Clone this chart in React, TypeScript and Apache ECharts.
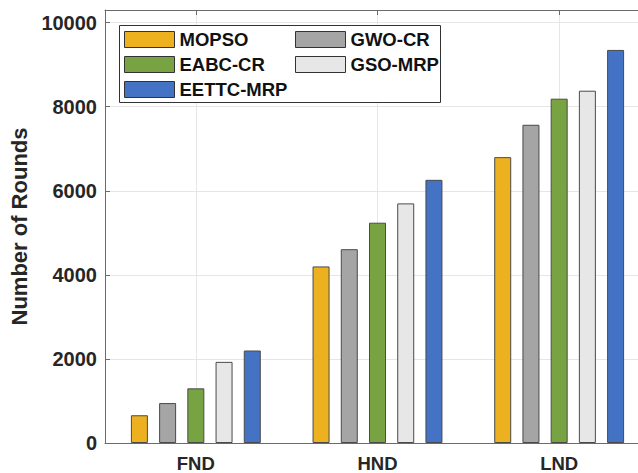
import React, { useEffect, useRef } from "react";
import * as echarts from "echarts";

const categories = ["FND", "HND", "LND"];
const seriesNames = ["MOPSO", "GWO-CR", "EABC-CR", "GSO-MRP", "EETTC-MRP"];
const mopso = [660, 4200, 6800];
const gwoCr = [950, 4610, 7570];
const eabcCr = [1300, 5240, 8190];
const gsoMrp = [1930, 5700, 8380];
const eettcMrp = [2200, 6260, 9350];
const seriesValues = [mopso, gwoCr, eabcCr, gsoMrp, eettcMrp];
const seriesColors = ["#EDB120", "#A5A5A5", "#77A343", "#E7E7E7", "#4472C4"];
const yTickInterval = 2000;
const yMax = 10300;
const yAxisTitle = "Number of Rounds";

const FONT = "'Liberation Sans', Arial, Helvetica, sans-serif";
const AXIS_COLOR = "#6b6b6b";
const TEXT_COLOR = "#262626";

export default function App() {
  const ref = useRef<HTMLDivElement>(null);
  useEffect(() => {
    if (!ref.current) return;
    const chart = echarts.init(ref.current, undefined, { renderer: "svg" });
    const option: any = {
      animation: false,
      backgroundColor: "#ffffff",
      textStyle: { fontFamily: FONT },
      grid: { left: 105, top: 10, width: 545, bottom: 30 },
      graphic: [
        {
          type: "rect",
          z: 3,
          shape: { x: 119.5, y: 25.5, width: 321, height: 77 },
          style: { fill: "#ffffff", stroke: "#333333", lineWidth: 1 },
        },
      ],
      legend: [
        {
          data: ["MOPSO", "EABC-CR", "EETTC-MRP"],
          orient: "vertical",
          left: 124,
          top: 30,
          padding: 0,
          itemGap: 6,
          itemWidth: 50,
          itemHeight: 16,
          selectedMode: false,
          icon: "rect",
          itemStyle: { borderColor: "#333333", borderWidth: 1 },
          textStyle: { fontFamily: FONT, fontSize: 18.5, fontWeight: "bold", color: "#111111" },
        },
        {
          data: ["GWO-CR", "GSO-MRP"],
          orient: "vertical",
          left: 295,
          top: 30,
          padding: 0,
          itemGap: 6,
          itemWidth: 50,
          itemHeight: 16,
          selectedMode: false,
          icon: "rect",
          itemStyle: { borderColor: "#333333", borderWidth: 1 },
          textStyle: { fontFamily: FONT, fontSize: 18.5, fontWeight: "bold", color: "#111111" },
        },
      ],
      xAxis: [
        {
          type: "category",
          data: categories,
          position: "bottom",
          axisLine: { show: true, lineStyle: { color: AXIS_COLOR, width: 1 } },
          axisTick: { show: true, inside: true, alignWithLabel: true, length: 5, lineStyle: { color: AXIS_COLOR } },
          axisLabel: { margin: 11, fontFamily: FONT, fontSize: 18.5, fontWeight: "bold", color: TEXT_COLOR },
          splitLine: { show: true, alignWithLabel: true, lineStyle: { color: "#e6e6e6", width: 1 } },
        },
        {
          type: "category",
          data: categories,
          position: "top",
          axisLine: { show: true, lineStyle: { color: AXIS_COLOR, width: 1 } },
          axisTick: { show: true, inside: true, alignWithLabel: true, length: 5, lineStyle: { color: AXIS_COLOR } },
          axisLabel: { show: false },
          splitLine: { show: false },
        },
      ],
      yAxis: {
        type: "value",
        min: 0,
        max: yMax,
        interval: yTickInterval,
        name: yAxisTitle,
        nameLocation: "middle",
        nameGap: 67,
        nameTextStyle: { fontFamily: FONT, fontSize: 22, fontWeight: "bold", color: TEXT_COLOR },
        axisLine: { show: true, lineStyle: { color: AXIS_COLOR, width: 1 } },
        axisTick: { show: true, inside: true, length: 5, lineStyle: { color: AXIS_COLOR } },
        axisLabel: {
          margin: 8,
          fontFamily: FONT,
          fontSize: 20,
          fontWeight: "bold",
          color: TEXT_COLOR,
          showMaxLabel: false,
          formatter: (v: number) => (v % yTickInterval === 0 ? String(v) : ""),
        },
        splitLine: { show: true, lineStyle: { color: "#e6e6e6", width: 1 } },
      },
      series: seriesNames.map((name, i) => ({
        name,
        type: "bar",
        xAxisIndex: 0,
        data: seriesValues[i],
        barWidth: 17,
        barGap: "66%",
        itemStyle: { color: seriesColors[i], borderColor: "#4a4a4a", borderWidth: 1 },
      })),
    };
    chart.setOption(option);
    return () => chart.dispose();
  }, []);
  return (
    <div
      style={{
        position: "fixed",
        left: 0,
        top: 0,
        width: 638,
        height: 473,
        overflow: "hidden",
        background: "#ffffff",
      }}
    >
      <div ref={ref} style={{ width: 660, height: 473 }} />
    </div>
  );
}
